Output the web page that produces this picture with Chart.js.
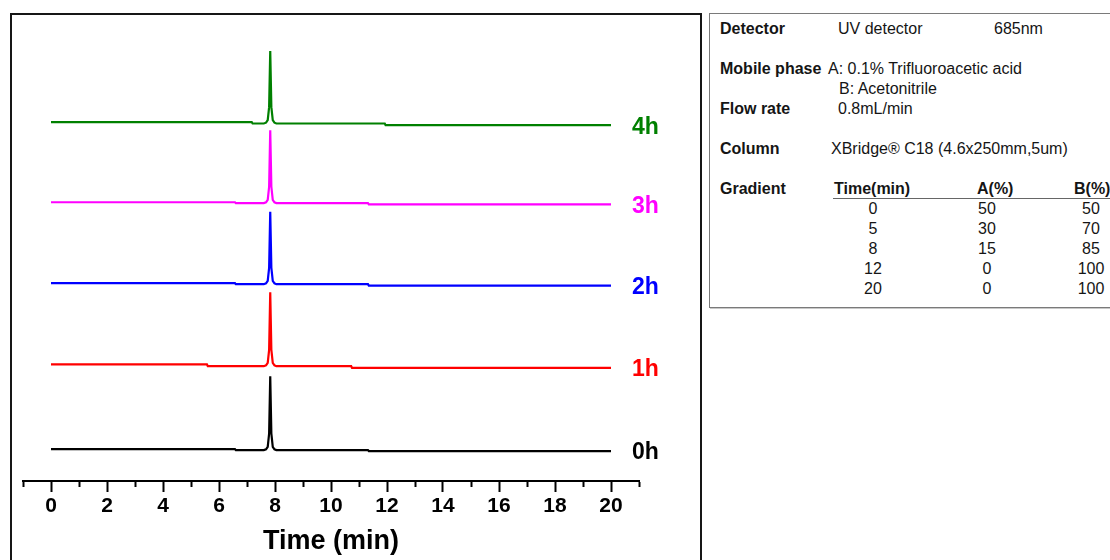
<!DOCTYPE html>
<html>
<head>
<meta charset="utf-8">
<script src="https://cdn.jsdelivr.net/npm/chart.js@4/dist/chart.umd.min.js"></script>
<style>
  html, body { margin: 0; padding: 0; background: #fff; }
  body { width: 1110px; height: 560px; position: relative; overflow: hidden;
         font-family: "Liberation Sans", Arial, sans-serif; }
  #frame { position: absolute; left: 10px; top: 13px; width: 692px; height: 620px;
           border: 2px solid #161616; box-sizing: border-box; }
  #plot { position: absolute; left: 0; top: 0; }
  #info { position: absolute; left: 709px; top: 13px; width: 460px; height: 295px;
          border: 1px solid #7a7a7a; box-shadow: 1px 1px 0 #c8c8c8; box-sizing: border-box; }
  .t { position: absolute; font-size: 16px; line-height: 20px; color: #151515; white-space: nowrap; }
  .b { font-weight: bold; }
  .c { transform: translateX(-50%); }
  #rule { position: absolute; left: 833px; top: 198px; width: 280px; height: 0;
          border-top: 1.5px solid #666; }
</style>
</head>
<body>
<div id="frame"></div>
<canvas id="plot" width="700" height="560"></canvas>
<div id="info"></div>
<div id="rule"></div>
<div id="table"></div>
<script>
// Retention time grid (min), shared by all traces
const time = [0, 5.57, 5.6, 6.57, 6.6, 7.17, 7.2, 7.6, 7.68, 7.74, 7.79, 7.83, 7.87,
              7.92, 7.98, 8.05, 10.72, 10.75, 11.32, 11.35, 11.92, 11.95, 20];

// Detector signal of each sample (relative units)
const signal0h = [0, 0, 0, 0, -0.012, -0.012, -0.012, -0.012, -0.002, 0.028, 0.19, 0.89, 0.19,
                  0.028, -0.002, -0.012, -0.012, -0.012, -0.012, -0.024, -0.024, -0.024, -0.024];
const signal1h = [0.036, 0.036, 0.015, 0.015, 0.015, 0.015, 0.015, 0.015, 0.025, 0.055, 0.215, 0.92, 0.215,
                  0.055, 0.025, 0.015, 0.015, -0.005, -0.005, -0.005, -0.005, -0.005, -0.005];
const signal2h = [0.03, 0.03, 0.03, 0.03, 0.018, 0.018, 0.018, 0.018, 0.028, 0.058, 0.218, 0.905, 0.218,
                  0.058, 0.028, 0.018, 0.018, 0.018, 0.018, 0, 0, 0, 0];
const signal3h = [0.02, 0.02, 0.02, 0.02, 0.01, 0.01, 0.01, 0.01, 0.02, 0.05, 0.21, 0.9, 0.21,
                  0.05, 0.02, 0.01, 0.01, 0.01, 0.01, -0.005, -0.005, -0.005, -0.005];
const signal4h = [0, 0, 0, 0, 0, 0, -0.016, -0.016, -0.006, 0.024, 0.184, 0.87, 0.184,
                  0.024, -0.006, -0.016, -0.016, -0.016, -0.016, -0.016, -0.016, -0.037, -0.037];

const sampleNames = ['0h', '1h', '2h', '3h', '4h'];
const sampleSignals = [signal0h, signal1h, signal2h, signal3h, signal4h];
const traceOffsets = [0, 1, 2, 3, 4];
const traceColors = ['#000000', '#ff0000', '#0000ff', '#ff00ff', '#008000'];

// x-axis tick labels (every 2 min)
const timeTickLabels = [0, 2, 4, 6, 8, 10, 12, 14, 16, 18, 20];

// Gradient program
const gradTime = [0, 5, 8, 12, 20];
const gradA = [50, 30, 15, 0, 0];
const gradB = [50, 70, 85, 100, 100];

const datasets = sampleSignals.map((sig, i) => ({
  label: sampleNames[i],
  data: time.map((t, k) => ({ x: t, y: sig[k] + traceOffsets[i] })),
  borderColor: traceColors[i],
  borderWidth: 2.2,
  pointRadius: 0,
  tension: 0,
  fill: false
}));

// Sample name written at the right end of each trace
const traceLabels = {
  id: 'traceLabels',
  afterDatasetsDraw(chart) {
    const ctx = chart.ctx;
    ctx.save();
    ctx.font = 'bold 23px "Liberation Sans", Arial, sans-serif';
    ctx.textBaseline = 'middle';
    ctx.textAlign = 'left';
    chart.data.datasets.forEach((ds, i) => {
      const pts = chart.getDatasetMeta(i).data;
      const last = pts[pts.length - 1];
      ctx.fillStyle = ds.borderColor;
      ctx.fillText(ds.label, 632, last.y + 2);
    });
    ctx.restore();
  }
};

new Chart(document.getElementById('plot'), {
  type: 'line',
  data: { datasets },
  plugins: [traceLabels],
  options: {
    responsive: false,
    devicePixelRatio: 1,
    animation: false,
    layout: { padding: { left: 23, right: 61, top: 20, bottom: 0 } },
    plugins: { legend: { display: false }, tooltip: { enabled: false } },
    scales: {
      y: { display: false, min: -0.39, max: 5.25 },
      x: {
        type: 'linear', min: -1, max: 21,
        afterFit(scale) { scale.height = 79; },
        border: { display: true, color: '#000', width: 2 },
        grid: {
          display: true, drawOnChartArea: false, drawTicks: true,
          tickLength: 11, tickColor: '#000', tickWidth: 2,
          tickBorderDash: (c) => (timeTickLabels.includes(c.tick.value) ? [] : [5, 40])
        },
        ticks: {
          stepSize: 1, autoSkip: false, maxRotation: 0, padding: 2,
          color: '#000',
          font: { family: '"Liberation Sans", Arial, sans-serif', size: 21, weight: 'bold' },
          callback: (v) => (timeTickLabels.includes(v) ? String(v) : '')
        },
        title: {
          display: true, text: 'Time (min)', color: '#000',
          font: { family: '"Liberation Sans", Arial, sans-serif', size: 27, weight: 'bold' },
          padding: { top: 0, bottom: 2 }
        }
      }
    }
  }
});

// Method conditions panel
const table = document.getElementById('table');
function put(text, x, y, cls) {
  const s = document.createElement('div');
  s.className = 't ' + (cls || '');
  s.textContent = text;
  s.style.left = x + 'px';
  s.style.top = (y - 10) + 'px';
  table.appendChild(s);
}
put('Detector', 720, 29, 'b');
put('UV detector', 838, 29);
put('685nm', 994, 29);
put('Mobile phase', 720, 69, 'b');
put('A: 0.1% Trifluoroacetic acid', 828, 69);
put('B: Acetonitrile', 839, 89);
put('Flow rate', 720, 109, 'b');
put('0.8mL/min', 838, 109);
put('Column', 720, 149, 'b');
put('XBridge\u00AE C18 (4.6x250mm,5um)', 831, 149);
put('Gradient', 720, 189, 'b');
put('Time(min)', 834, 189, 'b');
put('A(%)', 977, 189, 'b');
put('B(%)', 1074, 189, 'b');
gradTime.forEach((t, i) => {
  const y = 209 + i * 20;
  put(String(t), 873, y, 'c');
  put(String(gradA[i]), 987, y, 'c');
  put(String(gradB[i]), 1091, y, 'c');
});
</script>
</body>
</html>
